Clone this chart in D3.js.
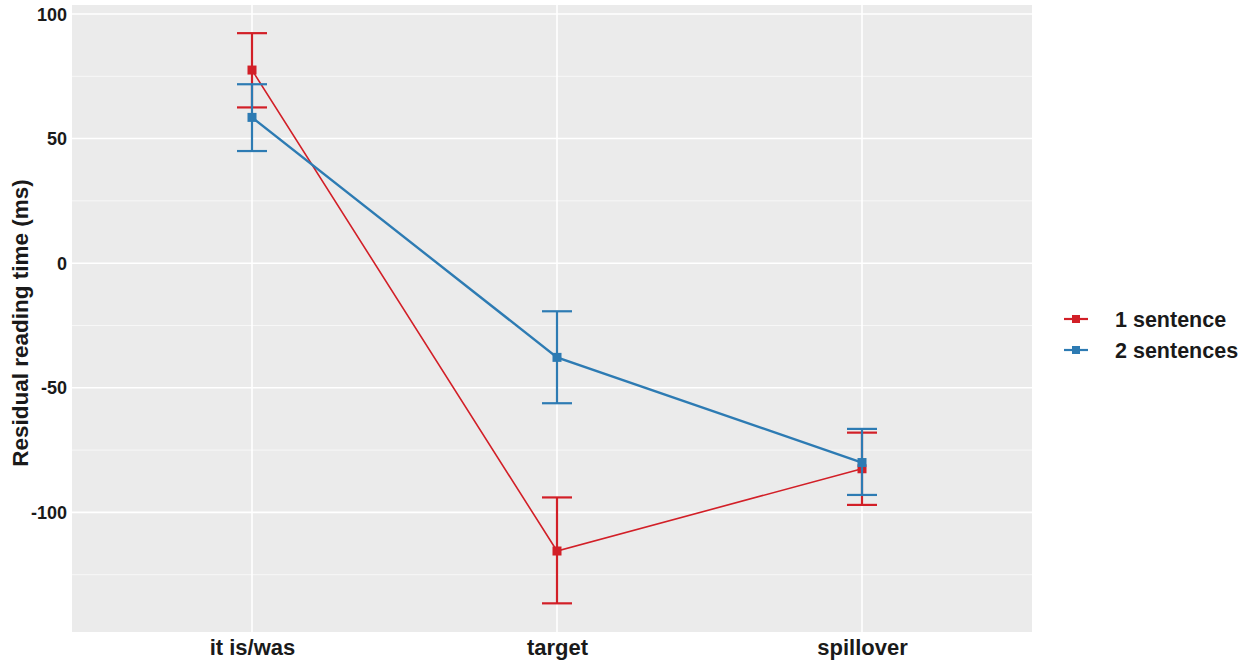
<!DOCTYPE html>
<html>
<head>
<meta charset="utf-8">
<script src="https://cdn.jsdelivr.net/npm/d3@7"></script>
<style>
  html, body { margin: 0; padding: 0; background: #ffffff; }
  svg { display: block; font-family: "Liberation Sans", Arial, sans-serif; }
</style>
</head>
<body>
<svg id="chart" width="1255" height="661"></svg>
<script>
// ---- data ----
const categories = ["it is/was", "target", "spillover"];
const seriesNames = ["1 sentence", "2 sentences"];
const oneMean  = [77.5, -115.5, -82.5];
const oneLow   = [62.5, -136.5, -97];
const oneHigh  = [92.3, -94, -68];
const twoMean  = [58.5, -37.8, -80];
const twoLow   = [45, -56.2, -93];
const twoHigh  = [71.8, -19.3, -66.5];
const yTicks = [100, 50, 0, -50, -100];
const yMinor = [75, 25, -25, -75, -125];

const colors = ["#d21f27", "#2d7bb3"];
const lineWidths = [1.6, 2.4];

const series = [
  { name: seriesNames[0], mean: oneMean, low: oneLow, high: oneHigh },
  { name: seriesNames[1], mean: twoMean, low: twoLow, high: twoHigh }
];

const svg = d3.select("#chart");
const panel = { left: 72, right: 1032, top: 5, bottom: 632 };

const x = d3.scalePoint().domain(categories).range([69, 1045]).padding(0.6);
const y = d3.scaleLinear().domain([-148, 103.6]).range([panel.bottom, panel.top]);

// panel background
svg.append("rect")
  .attr("x", panel.left).attr("y", panel.top)
  .attr("width", panel.right - panel.left).attr("height", panel.bottom - panel.top)
  .attr("fill", "#ebebeb");

// minor gridlines
svg.append("g").selectAll("line").data(yMinor).join("line")
  .attr("x1", panel.left).attr("x2", panel.right)
  .attr("y1", d => y(d)).attr("y2", d => y(d))
  .attr("stroke", "#f7f7f7").attr("stroke-width", 1);

// major gridlines
svg.append("g").selectAll("line").data(yTicks).join("line")
  .attr("x1", panel.left).attr("x2", panel.right)
  .attr("y1", d => y(d)).attr("y2", d => y(d))
  .attr("stroke", "#ffffff").attr("stroke-width", 1.6);

svg.append("g").selectAll("line").data(categories).join("line")
  .attr("x1", d => x(d)).attr("x2", d => x(d))
  .attr("y1", panel.top).attr("y2", panel.bottom)
  .attr("stroke", "#ffffff").attr("stroke-width", 1.6);

// y axis
const yAxis = d3.axisLeft(y).tickValues(yTicks).tickSize(0).tickPadding(5).tickFormat(d => String(d));
const yg = svg.append("g").attr("transform", `translate(${panel.left},0)`).call(yAxis);
yg.select(".domain").remove();
yg.selectAll("text").attr("font-size", 18).attr("font-weight", "bold").attr("fill", "#1a1a1a")
  .attr("font-family", "Liberation Sans, Arial, sans-serif").attr("dy", "0.34em");

// x axis
const xAxis = d3.axisBottom(x).tickSize(0).tickPadding(7);
const xg = svg.append("g").attr("transform", `translate(0,${panel.bottom})`).call(xAxis);
xg.select(".domain").remove();
xg.selectAll("text").attr("font-size", 22).attr("font-weight", "bold").attr("fill", "#1a1a1a")
  .attr("font-family", "Liberation Sans, Arial, sans-serif");

// y title
svg.append("text")
  .attr("transform", `translate(28,323) rotate(-90)`)
  .attr("text-anchor", "middle")
  .attr("font-size", 22.5).attr("font-weight", "bold").attr("fill", "#1a1a1a")
  .text("Residual reading time (ms)");

// series
const line = d3.line().x(d => x(d.cat)).y(d => y(d.v));
const capHalf = 15;

series.forEach((s, i) => {
  const pts = categories.map((c, j) => ({ cat: c, v: s.mean[j], lo: s.low[j], hi: s.high[j] }));
  const g = svg.append("g");
  g.append("path").datum(pts)
    .attr("d", line).attr("fill", "none")
    .attr("stroke", colors[i]).attr("stroke-width", lineWidths[i]);
  const eb = g.append("g").attr("stroke", colors[i]).attr("stroke-width", 2.2);
  eb.selectAll(".v").data(pts).join("line").attr("class", "v")
    .attr("x1", d => x(d.cat)).attr("x2", d => x(d.cat))
    .attr("y1", d => y(d.lo)).attr("y2", d => y(d.hi));
  eb.selectAll(".lo").data(pts).join("line").attr("class", "lo")
    .attr("x1", d => x(d.cat) - capHalf).attr("x2", d => x(d.cat) + capHalf)
    .attr("y1", d => y(d.lo)).attr("y2", d => y(d.lo));
  eb.selectAll(".hi").data(pts).join("line").attr("class", "hi")
    .attr("x1", d => x(d.cat) - capHalf).attr("x2", d => x(d.cat) + capHalf)
    .attr("y1", d => y(d.hi)).attr("y2", d => y(d.hi));
  g.selectAll("rect").data(pts).join("rect")
    .attr("x", d => x(d.cat) - 4.5).attr("y", d => y(d.v) - 4.5)
    .attr("width", 9).attr("height", 9)
    .attr("fill", colors[i]);
});

// legend
const legend = svg.append("g").attr("transform", "translate(1064,319)");
seriesNames.forEach((n, i) => {
  const row = legend.append("g").attr("transform", `translate(0,${i * 31})`);
  row.append("line").attr("x1", 0).attr("x2", 24).attr("y1", 0).attr("y2", 0)
    .attr("stroke", colors[i]).attr("stroke-width", 2.2);
  row.append("rect").attr("x", 8).attr("y", -4).attr("width", 8).attr("height", 8).attr("fill", colors[i]);
  row.append("text").attr("x", 51).attr("y", 7.5)
    .attr("font-size", 21.5).attr("font-weight", "bold").attr("fill", "#1a1a1a")
    .text(n);
});
</script>
</body>
</html>
